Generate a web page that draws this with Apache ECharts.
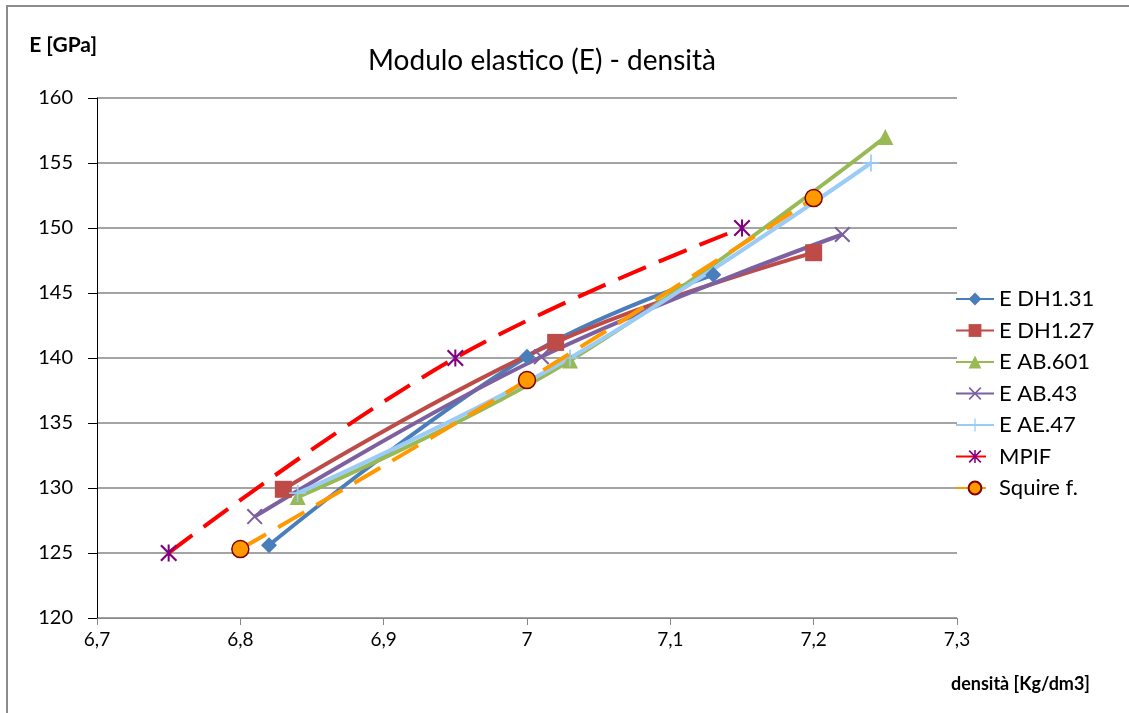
<!DOCTYPE html>
<html>
<head>
<meta charset="utf-8">
<script src="https://cdn.jsdelivr.net/npm/echarts@6/dist/echarts.min.js"></script>
<style>
  html, body { margin: 0; padding: 0; background: #fff; }
  #chart { width: 1129px; height: 713px; }
</style>
</head>
<body>
<div id="chart"></div>
<script>
// Density [Kg/dm3] and elastic modulus E [GPa] for each material
const densDH131 = [6.82, 7.00, 7.13];
const modDH131  = [125.6, 140.1, 146.4];

const densDH127 = [6.83, 7.02, 7.20];
const modDH127  = [129.9, 141.2, 148.1];

const densAB601 = [6.84, 7.03, 7.25];
const modAB601  = [129.3, 139.8, 157.0];

const densAB43  = [6.81, 7.01, 7.22];
const modAB43   = [127.8, 140.1, 149.5];

const densAE47  = [6.84, 7.03, 7.24];
const modAE47   = [129.6, 140.0, 155.0];

const densMPIF  = [6.75, 6.95, 7.15];
const modMPIF   = [125.0, 140.0, 150.0];

const densSquire = [6.80, 7.00, 7.20];
const modSquire  = [125.3, 138.3, 152.3];

const seriesNames = ['E DH1.31', 'E DH1.27', 'E AB.601', 'E AB.43', 'E AE.47', 'MPIF', 'Squire f.'];

const FONT = 'Lato, "Liberation Sans", sans-serif';

// marker outlines
const SYM_X = 'path://M0,0.9 L0.9,0 L10,9.1 L9.1,10 Z M9.1,0 L10,0.9 L0.9,10 L0,9.1 Z';
const SYM_PLUS = 'path://M4.5,0 L5.5,0 L5.5,10 L4.5,10 Z M0,4.5 L10,4.5 L10,5.5 L0,5.5 Z';
const SYM_STAR = 'path://M0,0.9 L0.9,0 L10,9.1 L9.1,10 Z M9.1,0 L10,0.9 L0.9,10 L0,9.1 Z M4.4,0 L5.6,0 L5.6,10 L4.4,10 Z';

function pairs(xs, ys) {
  return xs.map((x, i) => [x, ys[i]]);
}

function lineSeries(name, xs, ys, opts) {
  return Object.assign({
    name: name,
    type: 'line',
    data: pairs(xs, ys),
    smooth: 0.4,
    symbolSize: 15,
    z: 2
  }, opts);
}

const chart = echarts.init(document.getElementById('chart'), null, { renderer: 'canvas' });

chart.setOption({
  animation: false,
  backgroundColor: '#ffffff',
  textStyle: { fontFamily: FONT },
  graphic: [{
    type: 'rect',
    shape: { x: 7, y: 6, width: 1300, height: 900 },
    style: { fill: 'none', stroke: '#8c8c8c', lineWidth: 2 },
    silent: true,
    z: -10
  }],
  title: {
    text: 'Modulo elastico (E) - densità',
    left: 537,
    textAlign: 'center',
    top: 42,
    textStyle: { fontFamily: FONT, fontSize: 28, fontWeight: 'normal', color: '#000' }
  },
  legend: {
    orient: 'vertical',
    left: 950,
    top: 283,
    itemWidth: 38,
    itemHeight: 16,
    itemGap: 9.5,
    data: seriesNames,
    textStyle: { fontFamily: FONT, fontSize: 22, color: '#000' }
  },
  grid: { left: 97, right: 172, top: 98, bottom: 95, containLabel: false },
  xAxis: {
    type: 'value',
    min: 6.7,
    max: 7.3,
    interval: 0.1,
    name: 'densità [Kg/dm3]',
    nameLocation: 'end',
    nameGap: 133,
    nameTextStyle: {
      fontFamily: FONT, fontSize: 18, fontWeight: 'bold', color: '#000',
      align: 'right', verticalAlign: 'top', padding: [57, 0, 0, 0]
    },
    axisLine: { show: true, lineStyle: { color: '#868686', width: 1 } },
    axisTick: { show: true, inside: false, length: 7, lineStyle: { color: '#868686' } },
    axisLabel: {
      margin: 12,
      fontFamily: FONT, fontSize: 19, color: '#000',
      formatter: v => String(Math.round(v * 10) / 10).replace('.', ',')
    },
    splitLine: { show: false }
  },
  yAxis: {
    type: 'value',
    min: 120,
    max: 160,
    interval: 5,
    name: 'E [GPa]',
    nameLocation: 'end',
    nameGap: 42,
    nameTextStyle: {
      fontFamily: FONT, fontSize: 21, fontWeight: 'bold', color: '#000', align: 'right'
    },
    axisLine: { show: true, lineStyle: { color: '#000', width: 1 } },
    axisTick: { show: true, inside: false, length: 9, lineStyle: { color: '#000' } },
    axisLabel: { margin: 24, fontFamily: FONT, fontSize: 20, color: '#000' },
    splitLine: { show: true, lineStyle: { color: '#868686', width: 1.5 } }
  },
  series: [
    lineSeries('E DH1.31', densDH131, modDH131, {
      symbol: 'diamond', symbolSize: 16,
      itemStyle: { color: '#4A7EBB' },
      lineStyle: { color: '#4A7EBB', width: 4 }
    }),
    lineSeries('E DH1.27', densDH127, modDH127, {
      symbol: 'rect', symbolSize: 17,
      itemStyle: { color: '#BE4B48' },
      lineStyle: { color: '#BE4B48', width: 4 }
    }),
    lineSeries('E AB.601', densAB601, modAB601, {
      symbol: 'triangle', symbolSize: 16,
      itemStyle: { color: '#98B954' },
      lineStyle: { color: '#98B954', width: 4 }
    }),
    lineSeries('E AB.43', densAB43, modAB43, {
      symbol: SYM_X, symbolSize: 16,
      itemStyle: { color: '#7D60A0' },
      lineStyle: { color: '#7D60A0', width: 4 }
    }),
    lineSeries('E AE.47', densAE47, modAE47, {
      symbol: SYM_PLUS, symbolSize: 17,
      itemStyle: { color: '#9BCBF7' },
      lineStyle: { color: '#9BCBF7', width: 4 }
    }),
    lineSeries('MPIF', densMPIF, modMPIF, {
      symbol: SYM_STAR, symbolSize: 17,
      itemStyle: { color: '#800080' },
      lineStyle: { color: '#FF0000', width: 4, type: [30, 14] },
      z: 3
    }),
    lineSeries('Squire f.', densSquire, modSquire, {
      symbol: 'circle', symbolSize: 17,
      itemStyle: { color: '#FF9900', borderColor: '#7F0000', borderWidth: 1.5 },
      lineStyle: { color: '#FF9900', width: 4, type: [30, 14] },
      z: 3
    })
  ]
});
</script>
</body>
</html>
